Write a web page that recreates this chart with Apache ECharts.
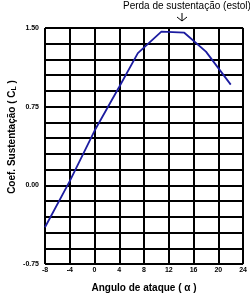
<!DOCTYPE html>
<html><head><meta charset="utf-8">
<script src="https://cdn.jsdelivr.net/npm/echarts@6/dist/echarts.min.js"></script>
<style>html,body{margin:0;padding:0;background:#fff}#c{width:250px;height:298px}</style>
</head><body><div id="c"></div>
<script>
var alphaDeg = [-8, -4, 0, 4, 7, 10.8, 14.5, 18, 22];
var liftCoef = [-0.40, 0.04, 0.52, 0.94, 1.26, 1.465, 1.455, 1.275, 0.96];
var xTicks = [-8, -4, 0, 4, 8, 12, 16, 20, 24];
var yLabels = ['-0.75', '0.00', '0.75', '1.50'];
var stallText = 'Perda de sustentação (estol)';

var pts = alphaDeg.map(function(a, i){ return [a, liftCoef[i]]; });
var chart = echarts.init(document.getElementById('c'), null, {renderer:'canvas'});
chart.setOption({
  animation:false,
  backgroundColor:'#fff',
  grid:{left:45, right:4, top:28, bottom:33, containLabel:false},
  xAxis:{type:'value', min:xTicks[0], max:xTicks[xTicks.length-1], interval:4,
    name:'Angulo de ataque ( α )', nameLocation:'middle', nameGap:19,
    nameTextStyle:{fontFamily:'Liberation Sans', fontWeight:'bold', fontSize:10, color:'#000'},
    axisLine:{lineStyle:{color:'#000', width:2}},
    axisTick:{show:false},
    axisLabel:{fontFamily:'Liberation Sans', fontWeight:'bold', fontSize:7, color:'#000', margin:3},
    splitLine:{show:true, lineStyle:{color:'#000', width:2}}
  },
  yAxis:{type:'value', min:-0.75, max:1.5, interval:0.15,
    axisLine:{show:true, lineStyle:{color:'#000', width:2}},
    axisTick:{show:false},
    axisLabel:{fontFamily:'Liberation Sans', fontWeight:'bold', fontSize:7, color:'#000', margin:6,
      formatter:function(v){ var s=v.toFixed(2); return yLabels.indexOf(s)>=0 ? s : ''; }},
    splitLine:{show:true, lineStyle:{color:'#000', width:2}}
  },
  graphic:[
    {type:'text', x:12, y:137, rotation:Math.PI/2,
      style:{text:'{t|Coef. Sustentação ( C}{s|L}{t| )}', align:'center', verticalAlign:'middle',
        rich:{t:{font:'bold 10px "Liberation Sans"', fill:'#000'},
              s:{font:'bold 7px "Liberation Sans"', fill:'#000', padding:[5,0,0,0]}}}},
    {type:'text', left:123, top:1, style:{text:stallText, font:'10px "Liberation Sans"', fill:'#000'}},
    {type:'line', shape:{x1:182, y1:13, x2:182, y2:21}, style:{stroke:'#000', lineWidth:1}},
    {type:'polyline', shape:{points:[[177,17],[182,21],[187,17]]}, style:{stroke:'#000', lineWidth:1, fill:null}}
  ],
  series:[{type:'line', data:pts, symbol:'none', lineStyle:{color:'#1c1ca0', width:1.8}}]
});
</script></body></html>
